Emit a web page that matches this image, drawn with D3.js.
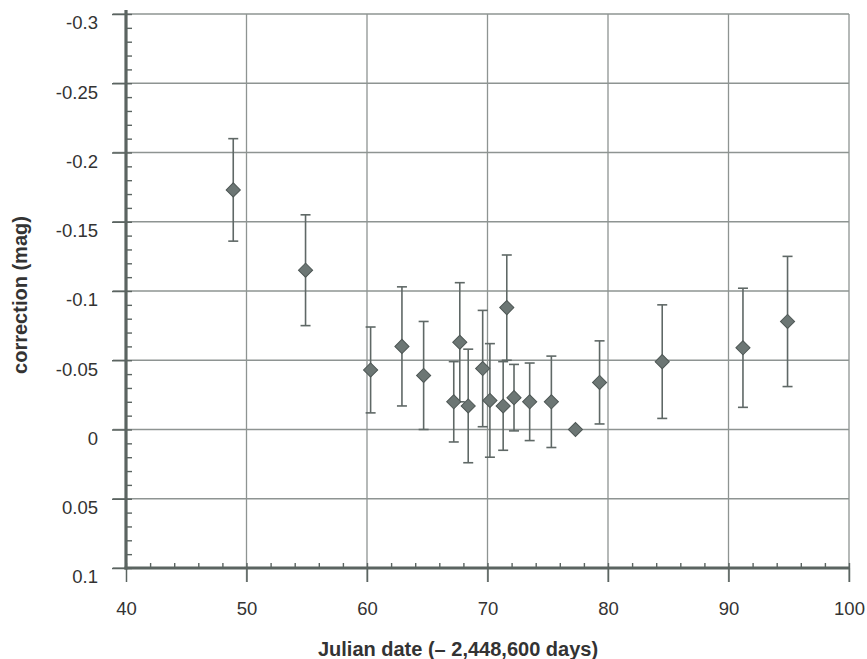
<!DOCTYPE html>
<html>
<head>
<meta charset="utf-8">
<script src="https://cdn.jsdelivr.net/npm/d3@7"></script>
<style>
  body { margin: 0; background: #fff; }
  text { font-family: "Liberation Sans", Arial, Helvetica, sans-serif; fill: #333; }
</style>
</head>
<body>
<div id="chart"></div>
<script>
// julian date offset (days) and fitted correction (mag) with error
var julian     = [48.9, 54.9, 60.3, 62.9, 64.7, 67.2, 67.7, 68.4, 69.6, 70.2, 71.3, 71.6, 72.2, 73.5, 75.3, 77.3, 79.3, 84.5, 91.2, 94.9];
var correction = [-0.173, -0.115, -0.043, -0.060, -0.039, -0.020, -0.063, -0.017, -0.044, -0.021, -0.017, -0.088, -0.023, -0.020, -0.020, 0.000, -0.034, -0.049, -0.059, -0.078];
var errorMag   = [0.037, 0.040, 0.031, 0.043, 0.039, 0.029, 0.043, 0.041, 0.042, 0.041, 0.032, 0.038, 0.024, 0.028, 0.033, 0, 0.030, 0.041, 0.043, 0.047];

var xTicks = [40, 50, 60, 70, 80, 90, 100];
var yTicks = [-0.3, -0.25, -0.2, -0.15, -0.1, -0.05, 0, 0.05, 0.1];
var xMinor = d3.range(40, 100.01, 2);
var yMinor = d3.range(-30, 10.01, 1).map(function(d) { return d / 100; });

var width = 867, height = 659;
var pLeft = 126, pRight = 849, pTop = 14, pBottom = 568;

var x = d3.scaleLinear().domain([40, 100]).range([pLeft, pRight]);
var y = d3.scaleLinear().domain([-0.3, 0.1]).range([pTop, pBottom]);

var axisCol = "#5b6461", gridCol = "#8e9492";

var svg = d3.select("#chart").append("svg")
    .attr("width", width)
    .attr("height", height);

// grid
svg.append("g").selectAll("line.h")
    .data(yTicks)
  .enter().append("line")
    .attr("x1", pLeft - 13).attr("x2", pRight)
    .attr("y1", function(d) { return y(d); })
    .attr("y2", function(d) { return y(d); })
    .style("stroke", gridCol).style("stroke-width", 1.3);

svg.append("g").selectAll("line.v")
    .data(xTicks.slice(1))
  .enter().append("line")
    .attr("y1", pTop).attr("y2", pBottom + 14)
    .attr("x1", function(d) { return x(d); })
    .attr("x2", function(d) { return x(d); })
    .style("stroke", gridCol).style("stroke-width", 1.3);

// minor ticks
svg.append("g")
    .attr("transform", "translate(" + pLeft + ",0)")
    .call(d3.axisRight(y).tickValues(yMinor).tickSize(6).tickFormat(""))
    .call(function(g) { g.select(".domain").remove(); })
    .selectAll("line").style("stroke", axisCol).style("stroke-width", 1.4);

svg.append("g")
    .attr("transform", "translate(0," + pBottom + ")")
    .call(d3.axisTop(x).tickValues(xMinor).tickSize(5).tickFormat(""))
    .call(function(g) { g.select(".domain").remove(); })
    .selectAll("line").style("stroke", axisCol).style("stroke-width", 1.4);

// major axes
var yAxis = svg.append("g")
    .attr("transform", "translate(" + pLeft + ",0)")
    .call(d3.axisLeft(y).tickValues(yTicks).tickSize(14).tickPadding(14)
      .tickFormat(function(d) { return String(+d.toFixed(2)); }));
yAxis.select(".domain").remove();
yAxis.selectAll("line").style("stroke", axisCol).style("stroke-width", 1.5);
yAxis.selectAll("text").style("font-size", "18.5px").attr("fill", "#333").attr("dy", "0.8em");

var xAxis = svg.append("g")
    .attr("transform", "translate(0," + pBottom + ")")
    .call(d3.axisBottom(x).tickValues(xTicks).tickSize(14).tickPadding(20));
xAxis.select(".domain").remove();
xAxis.selectAll("line").style("stroke", axisCol).style("stroke-width", 1.5);
xAxis.selectAll("text").style("font-size", "18.5px").attr("fill", "#333");

svg.append("line")
    .attr("x1", pLeft).attr("x2", pLeft).attr("y1", pTop - 4).attr("y2", pBottom + 1.5)
    .style("stroke", axisCol).style("stroke-width", 3.2);
svg.append("line")
    .attr("x1", pLeft - 1.5).attr("x2", pRight).attr("y1", pBottom).attr("y2", pBottom)
    .style("stroke", axisCol).style("stroke-width", 3.2);

// error bars
var pts = julian.map(function(d, i) { return {x: d, y: correction[i], e: errorMag[i]}; });
var bars = svg.append("g").selectAll("g.err")
    .data(pts.filter(function(d) { return d.e > 0; }))
  .enter().append("g")
    .style("stroke", "#5f6866").style("stroke-width", 1.6);

bars.append("line")
    .attr("x1", function(d) { return x(d.x); }).attr("x2", function(d) { return x(d.x); })
    .attr("y1", function(d) { return y(d.y - d.e); }).attr("y2", function(d) { return y(d.y + d.e); });
bars.append("line")
    .attr("x1", function(d) { return x(d.x) - 5; }).attr("x2", function(d) { return x(d.x) + 5; })
    .attr("y1", function(d) { return y(d.y - d.e); }).attr("y2", function(d) { return y(d.y - d.e); });
bars.append("line")
    .attr("x1", function(d) { return x(d.x) - 5; }).attr("x2", function(d) { return x(d.x) + 5; })
    .attr("y1", function(d) { return y(d.y + d.e); }).attr("y2", function(d) { return y(d.y + d.e); });

// diamonds
svg.append("g").selectAll("path")
    .data(pts)
  .enter().append("path")
    .attr("d", d3.symbol().type(d3.symbolSquare).size(100))
    .attr("transform", function(d) { return "translate(" + x(d.x) + "," + y(d.y) + ") rotate(45)"; })
    .style("fill", "#6c7674")
    .style("stroke", "#4e5755")
    .style("stroke-width", 1);

// axis titles
svg.append("text")
    .attr("x", 458)
    .attr("y", 656)
    .attr("text-anchor", "middle")
    .style("font-size", "20px")
    .style("font-weight", "bold")
    .text("Julian date (\u2013 2,448,600 days)");

svg.append("text")
    .attr("transform", "translate(27,295) rotate(-90)")
    .attr("text-anchor", "middle")
    .style("font-size", "20px")
    .style("font-weight", "bold")
    .text("correction (mag)");
</script>
</body>
</html>
